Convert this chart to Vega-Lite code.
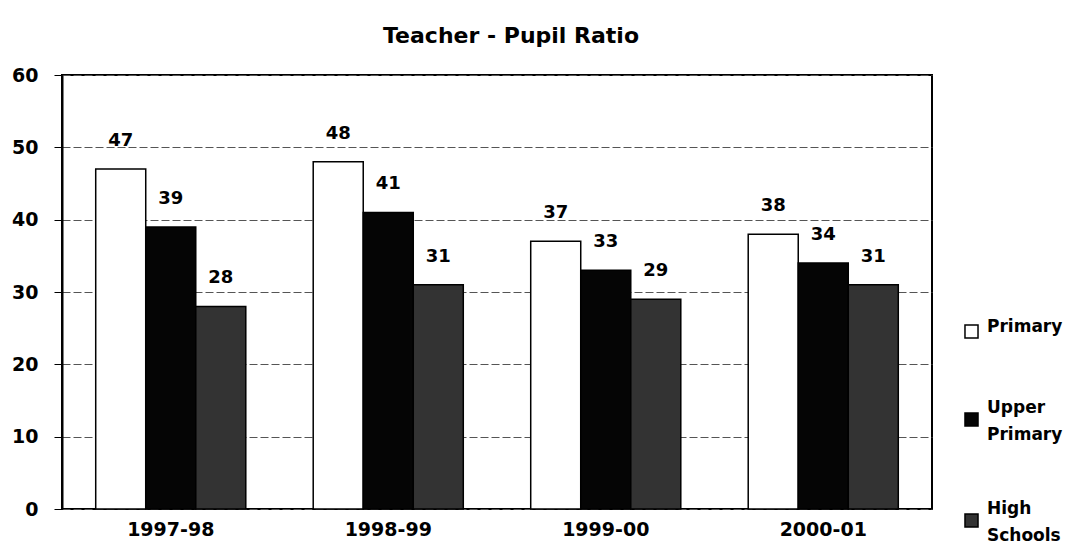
{
  "$schema": "https://vega.github.io/schema/vega-lite/v6.json",
  "width": 870,
  "height": 434,
  "autosize": "none",
  "padding": {"left": 62, "top": 75, "right": 144, "bottom": 38},
  "background": "white",
  "title": {"text": "Teacher - Pupil Ratio", "font": "DejaVu Sans", "fontSize": 22, "fontWeight": "bold", "color": "black", "offset": 18, "anchor": "middle", "dx": 14},
  "config": {"view": {"stroke": "black", "strokeWidth": 2}, "style": {"guide-label": {"lineHeight": 27}}},
  "data": {"values": [
    {"year": "1997-98", "type": "Primary", "ratio": 47},
    {"year": "1997-98", "type": "Upper Primary", "ratio": 39},
    {"year": "1997-98", "type": "High Schools", "ratio": 28},
    {"year": "1998-99", "type": "Primary", "ratio": 48},
    {"year": "1998-99", "type": "Upper Primary", "ratio": 41},
    {"year": "1998-99", "type": "High Schools", "ratio": 31},
    {"year": "1999-00", "type": "Primary", "ratio": 37},
    {"year": "1999-00", "type": "Upper Primary", "ratio": 33},
    {"year": "1999-00", "type": "High Schools", "ratio": 29},
    {"year": "2000-01", "type": "Primary", "ratio": 38},
    {"year": "2000-01", "type": "Upper Primary", "ratio": 34},
    {"year": "2000-01", "type": "High Schools", "ratio": 31}
  ]},
  "encoding": {
    "x": {"field": "year", "type": "nominal", "title": null,
      "scale": {"paddingInner": 0.31, "paddingOuter": 0.155},
      "axis": {"labelAngle": 0, "labelFont": "DejaVu Sans", "labelFontSize": 19, "labelFontWeight": "bold", "labelColor": "black", "ticks": false, "domain": false, "labelPadding": 11}},
    "xOffset": {"field": "type", "type": "nominal", "sort": ["Primary", "Upper Primary", "High Schools"], "scale": {"paddingInner": 0, "paddingOuter": 0}},
    "y": {"field": "ratio", "type": "quantitative", "title": null,
      "scale": {"domain": [0, 60]},
      "axis": {"values": [0, 10, 20, 30, 40, 50, 60], "labelFont": "DejaVu Sans", "labelFontSize": 19, "labelFontWeight": "bold", "labelColor": "black", "tickColor": "black", "tickSize": 8, "labelPadding": 16, "domainColor": "black", "domainWidth": 2, "gridColor": "#555", "gridDash": [8, 3], "gridWidth": 1}}
  },
  "layer": [
    {
      "mark": {"type": "bar", "stroke": "black", "strokeWidth": 1.5},
      "encoding": {
        "color": {"field": "type", "type": "nominal", "sort": ["Primary", "Upper Primary", "High Schools"],
          "scale": {"domain": ["Primary", "Upper Primary", "High Schools"], "range": ["#ffffff", "#050505", "#333333"]},
          "legend": {"title": null, "orient": "none", "legendX": 901, "legendY": 248, "direction": "vertical",
            "symbolType": "square", "symbolSize": 170, "symbolStrokeColor": "black", "symbolStrokeWidth": 1.5,
            "labelFont": "DejaVu Sans", "labelFontSize": 17, "labelFontWeight": "bold", "labelColor": "black",
            "labelExpr": "split(datum.label, ' ')", "labelBaseline": "middle", "labelOffset": 7,
            "rowPadding": 56, "symbolOffset": 0,
            "encode": {"labels": {"update": {"dy": {"signal": "datum.value === 'Primary' ? -5 : -12"}}}}}
        }
      }
    },
    {
      "mark": {"type": "text", "dy": -19, "baseline": "bottom", "font": "DejaVu Sans", "fontSize": 18, "fontWeight": "bold", "color": "black"},
      "encoding": {"text": {"field": "ratio", "type": "quantitative"}}
    }
  ]
}
